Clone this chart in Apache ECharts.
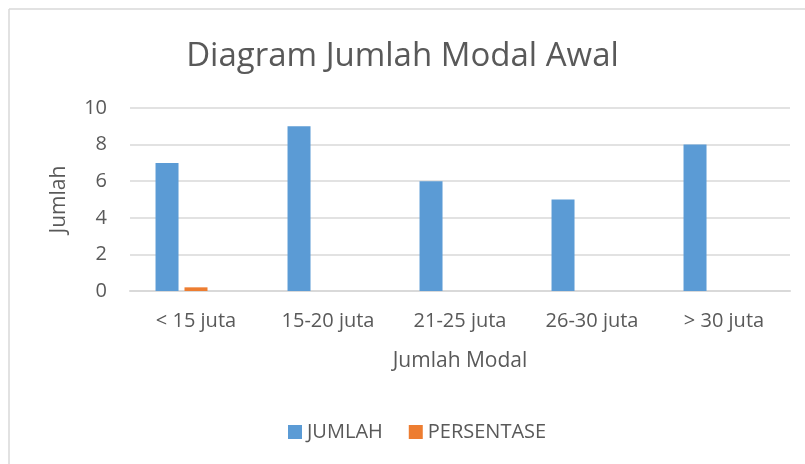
<!DOCTYPE html>
<html>
<head>
<meta charset="utf-8">
<script src="https://cdn.jsdelivr.net/npm/echarts@6/dist/echarts.min.js"></script>
<style>
  html, body { margin: 0; padding: 0; background: #fff; }
  #chart { width: 805px; height: 464px; }
</style>
</head>
<body>
<div id="chart"></div>
<script>
// data
const categories = ['< 15 juta', '15-20 juta', '21-25 juta', '26-30 juta', '> 30 juta']
const jumlah = [7, 9, 6, 5, 8]
const persentase = [0.2, 0, 0, 0, 0]
const kosong = [null, null, null, null, null] // empty third column in the source sheet
const yTicks = [0, 2, 4, 6, 8, 10]

const textColor = '#595959'
const font = 'Open Sans'

const chart = echarts.init(document.getElementById('chart'))
const option = {
  animation: false,
  textStyle: { fontFamily: font },
  title: {
    text: 'Diagram Jumlah Modal Awal',
    left: 'center',
    top: 35,
    textStyle: { color: textColor, fontSize: 33, fontWeight: 'normal', fontFamily: font }
  },
  legend: {
    data: ['JUMLAH', 'PERSENTASE'],
    bottom: 17,
    left: 283,
    itemWidth: 14,
    itemHeight: 14,
    itemGap: 26,
    icon: 'rect',
    textStyle: { color: textColor, fontSize: 20, fontFamily: font }
  },
  grid: { left: 130, right: 15, top: 108, bottom: 173 },
  xAxis: {
    type: 'category',
    data: categories,
    name: 'Jumlah Modal',
    nameLocation: 'middle',
    nameGap: 60,
    nameTextStyle: { color: textColor, fontSize: 21, fontFamily: font },
    axisLine: { lineStyle: { color: '#d9d9d9', width: 2 } },
    axisTick: { show: false },
    axisLabel: { color: textColor, fontSize: 20, margin: 20, fontFamily: font }
  },
  yAxis: {
    type: 'value',
    min: yTicks[0],
    max: yTicks[yTicks.length - 1],
    interval: yTicks[1] - yTicks[0],
    name: 'Jumlah',
    nameLocation: 'middle',
    nameGap: 60,
    nameTextStyle: { color: textColor, fontSize: 21, fontFamily: font },
    axisLabel: { color: textColor, fontSize: 20, margin: 23, fontFamily: font },
    splitLine: { lineStyle: { color: '#d9d9d9', width: 1.5 } }
  },
  series: [
    { name: 'JUMLAH', type: 'bar', data: jumlah, barWidth: 23, barGap: '26%', itemStyle: { color: '#5b9bd5' } },
    { name: 'PERSENTASE', type: 'bar', data: persentase, barWidth: 23, barGap: '26%', itemStyle: { color: '#ed7d31' } },
    { name: 'kosong', type: 'bar', data: kosong, barWidth: 23, barGap: '26%', itemStyle: { color: '#a5a5a5' } }
  ],
  graphic: [
    { type: 'line', shape: { x1: 9, y1: 9, x2: 805, y2: 9 }, style: { stroke: '#d9d9d9', lineWidth: 1.5 } },
    { type: 'line', shape: { x1: 9, y1: 9, x2: 9, y2: 464 }, style: { stroke: '#d9d9d9', lineWidth: 1.5 } }
  ]
}
chart.setOption(option)
</script>
</body>
</html>
